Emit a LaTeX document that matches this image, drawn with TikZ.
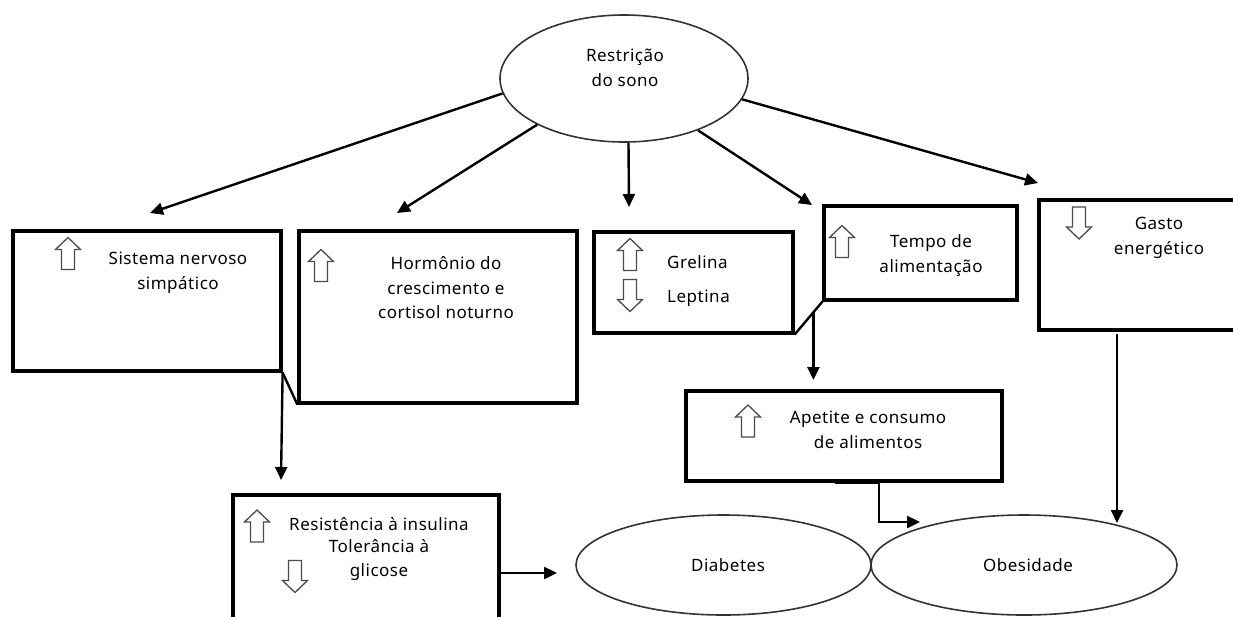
\documentclass[tikz,border=0pt]{standalone}
\usepackage{fontspec}
\setmainfont{Noto Sans}[LetterSpace=3]
\usetikzlibrary{shapes.geometric,arrows.meta,calc}
\tikzset{
  boxnode/.style={draw=black, line width=3.2pt, rectangle, inner sep=0pt, fill=white},
  ellnode/.style={draw=black!80, line width=1.6pt, ellipse, inner sep=0pt, fill=white},
  txt/.style={font=\fontsize{17}{24.5}\selectfont, align=center, inner sep=0pt},
  arr/.style={-{Triangle[length=13pt,width=12pt]}, line width=2.4pt},
  plainline/.style={line width=2.4pt},
  icon/.style={draw=black!70, line width=1.3pt, fill=white, line join=miter},
  uparrow/.pic={\draw[icon] (-6.5,16) -- (-6.5,-4) -- (-12.5,-4) -- (0,-16) -- (12.5,-4) -- (6.5,-4) -- (6.5,16) -- cycle;},
  downarrow/.pic={\draw[icon] (-6.5,-16) -- (-6.5,4) -- (-12.5,4) -- (0,16) -- (12.5,4) -- (6.5,4) -- (6.5,-16) -- cycle;}
}
\begin{document}
\begin{tikzpicture}[x=1pt,y=-1pt]
\useasboundingbox (0,0) rectangle (1233,616);
\fill[white] (0,0) rectangle (1233,616);
\clip (0,0) rectangle (1233,616);

% top ellipse
\node[ellnode, minimum width=248pt, minimum height=127pt] (top) at (624,78.5) {};
\node[txt] (toptxt) at (625,68) {Restrição\\do sono};

% boxes
\node[boxnode, minimum width=268pt, minimum height=140pt] (b1) at (147,301) {};
\node[boxnode, minimum width=278pt, minimum height=172pt] (b2) at (438,317) {};
\node[boxnode, minimum width=199pt, minimum height=101pt] (b3) at (693.5,282.5) {};
\node[boxnode, minimum width=193pt, minimum height=94pt] (b4) at (920.5,253) {};
\node[boxnode, minimum width=206pt, minimum height=130pt] (b5) at (1142,265) {};
\node[boxnode, minimum width=316pt, minimum height=90pt] (b6) at (844,436) {};
\node[boxnode, minimum width=266pt, minimum height=135pt] (b7) at (366,562.5) {};

% bottom ellipses
\node[ellnode, minimum width=295pt, minimum height=100pt] (diab) at (723.5,565) {};
\node[ellnode, minimum width=306pt, minimum height=100pt] (obes) at (1024,565) {};

% texts
\node[txt] (t1) at (178,273) {Sistema nervoso\\simpático};
\node[txt] (t2) at (446,288) {Hormônio do\\crescimento e\\cortisol noturno};
\node[txt, anchor=west] (t3a) at (667,262) {Grelina};
\node[txt, anchor=west] (t3b) at (667,298) {Leptina};
\node[txt] (t4) at (931,255.5) {Tempo de\\alimentação};
\node[txt] (t5) at (1159,238) {Gasto\\energético};
\node[txt] (t6) at (868,430) {Apetite e consumo\\de alimentos};
\node[txt, anchor=west] (t7a) at (289,524) {Resistência à insulina};
\node[txt] (t7b) at (379,560) {Tolerância à\\glicose};
\node[txt] (td) at (728,565) {Diabetes};
\node[txt] (to) at (1028,565) {Obesidade};

% icons
\pic at (68,253.5) {uparrow};
\pic at (321,265.5) {uparrow};
\pic at (630,254.5) {uparrow};
\pic at (630,295.5) {downarrow};
\pic at (842,241.5) {uparrow};
\pic at (1079,223) {downarrow};
\pic at (748,421) {uparrow};
\pic at (257,526) {uparrow};
\pic at (295,576.5) {downarrow};

% arrow end points
\coordinate (e1) at (150,213);
\coordinate (e2) at (397,213);
\coordinate (e3) at (629,207);
\coordinate (e4) at (812,205);
\coordinate (e5) at (1038,183);
\coordinate (e7) at (281,480);
\coordinate (e6) at (814,380);
\coordinate (k0) at (835,482);
\coordinate (k1) at (879,482);
\coordinate (k2) at (920,522);
\coordinate (s5) at (1117,334);
\coordinate (e8) at (1117,523);
\coordinate (e9) at (557,573);

% connectors from top
\draw[arr] (top.187) -- (e1);
\draw[arr] (top.208) -- (e2);
\draw[arr] (top.274) -- (e3);
\draw[arr] (top.325) -- (e4);
\draw[arr] (top.350) -- (e5);

% box links
\draw[plainline] (b1.south east) -- (b2.south west);
\draw[arr] (b1.south east) -- (e7);
\draw[plainline] (b3.south east) -- (b4.south west);
\coordinate (m34) at ($(b3.south east)!0.677!(b4.south west)$);
\draw[arr] (m34) -- (m34 |- e6);
\draw[line width=4.4pt] (k0) -- (k1);
\draw[arr] (k1) |- (k2);
\draw[arr] (s5) -- (e8);
\draw[arr] (b7.east |- e9) -- (e9);
\end{tikzpicture}
\end{document}
